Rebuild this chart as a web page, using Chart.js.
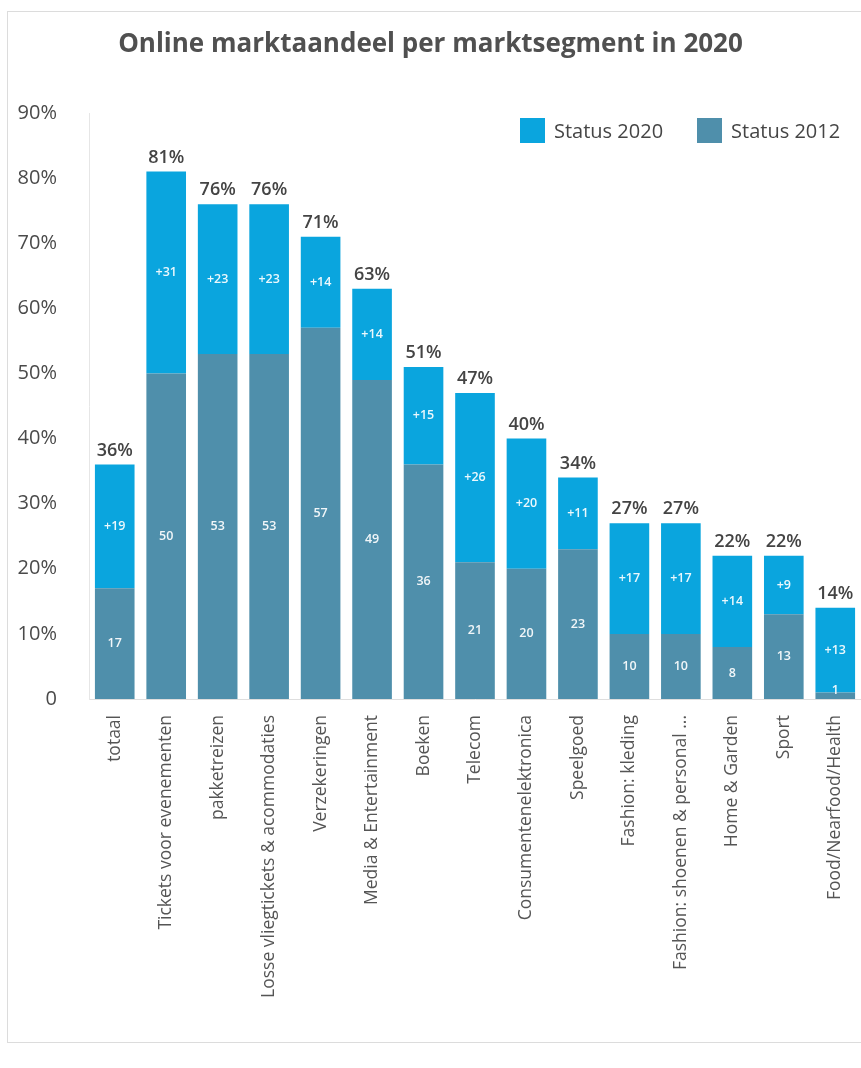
<!DOCTYPE html>
<html>
<head>
<meta charset="utf-8">
<script src="https://cdn.jsdelivr.net/npm/chart.js@4/dist/chart.umd.min.js"></script>
<style>
  body { margin: 0; background: #fff; font-family: 'Open Sans', sans-serif; }
  #wrap { position: relative; width: 861px; height: 1068px; overflow: hidden; }
  #frame { position: absolute; left: 7px; top: 11px; width: 900px; height: 1030px; border: 1px solid #dcdcdc; }
  #title { position: absolute; left: 0; width: 861px; top: 24px; text-align: center;
           font-size: 26px; font-weight: 700; color: #505050; }
  #legend { position: absolute; left: 520px; top: 117px; height: 27px; display: flex; align-items: center;
            font-size: 20px; color: #454545; white-space: nowrap; }
  #legend span.item { display: flex; align-items: center; margin-right: 34px; }
  #legend i { display: inline-block; width: 25px; height: 25px; margin-right: 9px; }
  canvas { position: absolute; left: 0; top: 0; }
</style>
</head>
<body>
<div id="wrap">
  <div id="frame"></div>
  <canvas id="marketChart" width="861" height="1068"></canvas>
  <div id="title">Online marktaandeel per marktsegment in 2020</div>
  <div id="legend"></div>
</div>
<script>
// Data
const categories = ['totaal', 'Tickets voor evenementen', 'pakketreizen', 'Losse vliegtickets & acommodaties',
    'Verzekeringen', 'Media & Entertainment', 'Boeken', 'Telecom', 'Consumentenelektronica', 'Speelgoed',
    'Fashion: kleding', 'Fashion: shoenen & personal ...', 'Home & Garden', 'Sport', 'Food/Nearfood/Health'];
const status2012 = [17, 50, 53, 53, 57, 49, 36, 21, 20, 23, 10, 10, 8, 13, 1];
const growth2020 = [19, 31, 23, 23, 14, 14, 15, 26, 20, 11, 17, 17, 14, 9, 13];
const yTicks = [0, 10, 20, 30, 40, 50, 60, 70, 80, 90];

const color2012 = '#4f8fab';
const color2020 = '#0aa5de';

// labels inside bars and totals on top
const barLabels = {
    id: 'barLabels',
    afterDatasetsDraw(chart) {
        const ctx = chart.ctx;
        const bottom = chart.scales.y.bottom;
        ctx.save();
        ctx.textAlign = 'center';
        chart.data.datasets.forEach((ds, di) => {
            const meta = chart.getDatasetMeta(di);
            meta.data.forEach((bar, i) => {
                const p = bar.getProps(['x', 'y', 'base'], true);
                const cy = Math.min((p.y + p.base) / 2, bottom - 9);
                ctx.textBaseline = 'middle';
                ctx.font = '600 12.5px "Open Sans"';
                ctx.fillStyle = 'rgba(255,255,255,0.92)';
                const txt = di === 1 ? '+' + ds.data[i] : String(ds.data[i]);
                ctx.fillText(txt, p.x, cy);
                if (di === 1) {
                    const total = status2012[i] + growth2020[i];
                    ctx.textBaseline = 'alphabetic';
                    ctx.font = '600 18px "Open Sans"';
                    ctx.fillStyle = '#444444';
                    ctx.fillText(total + '%', p.x, p.y - 9);
                }
            });
        });
        ctx.restore();
    }
};

const chart = new Chart(document.getElementById('marketChart'), {
    type: 'bar',
    data: {
        labels: categories,
        datasets: [{
            label: 'Status 2012',
            data: status2012,
            backgroundColor: color2012
        }, {
            label: 'Status 2020',
            data: growth2020,
            backgroundColor: color2020
        }]
    },
    options: {
        responsive: false,
        animation: false,
        layout: { padding: { top: 113, left: 0, right: -1, bottom: 0 } },
        datasets: { bar: { categoryPercentage: 1, barPercentage: 0.77 } },
        plugins: {
            legend: { display: false },
            tooltip: { enabled: false }
        },
        scales: {
            x: {
                stacked: true,
                grid: { display: false },
                border: { color: '#dedede' },
                ticks: {
                    autoSkip: false, minRotation: 90, maxRotation: 90, padding: 8,
                    color: '#555555', font: { family: 'Open Sans', size: 17.5 }
                },
                afterFit(scale) {
                    scale.height = 369;
                    scale.paddingLeft = 0;
                    scale.paddingRight = 0;
                }
            },
            y: {
                stacked: true,
                min: 0, max: 90,
                grid: { display: false },
                border: { color: '#e6e6e6' },
                afterBuildTicks(scale) { scale.ticks = yTicks.map(v => ({ value: v })); },
                ticks: {
                    padding: 24, color: '#4a4a4a', font: { family: 'Open Sans', size: 20 },
                    callback: v => v === 0 ? '0' : v + '%'
                },
                afterFit(scale) { scale.width = 89; }
            }
        }
    },
    plugins: [barLabels]
});

// legend in the same order as the picture
const legend = document.getElementById('legend');
[1, 0].forEach(di => {
    const ds = chart.data.datasets[di];
    const item = document.createElement('span');
    item.className = 'item';
    item.innerHTML = '<i style="background:' + ds.backgroundColor + '"></i>' + ds.label;
    legend.appendChild(item);
});
</script>
</body>
</html>
